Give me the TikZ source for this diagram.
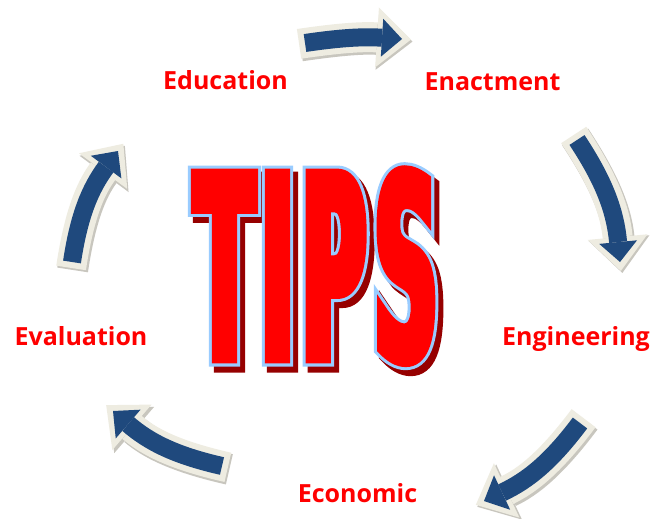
\documentclass[tikz,border=0pt]{standalone}
\usepackage{fontspec}
\usetikzlibrary{arrows.meta}
\setmainfont{Open Sans}
\newfontfamily\tipsRed{DejaVu Sans Bold}[FakeStretch=0.34,FakeBold=3.5]
\newfontfamily\tipsBlue{DejaVu Sans Bold}[FakeStretch=0.34,FakeBold=5.9]
\definecolor{tipred}{RGB}{255,0,0}
\definecolor{tipblue}{RGB}{153,204,255}
\definecolor{tipshadow}{RGB}{150,0,0}
\definecolor{arrowblue}{RGB}{31,73,125}
\definecolor{arrowcream}{RGB}{238,236,225}
\definecolor{arrowshade}{RGB}{200,198,190}
\tikzset{
  lab/.style={anchor=base, inner sep=0pt, text=tipred, font=\bfseries\fontsize{25}{25}\selectfont},
  letter/.style={anchor=base, inner sep=0pt},
  creamarrow/.style={line width=30pt, arrowcream, shorten <=-6pt, shorten >=-9pt,
    -{Triangle[width=60pt,length=34pt,line width=0pt]}},
  shadearrow/.style={line width=31pt, arrowshade, shorten <=-6pt, shorten >=-9pt,
    -{Triangle[width=61pt,length=35pt,line width=0pt]}},
  bluearrow/.style={line width=18pt, arrowblue,
    -{Triangle[width=38pt,length=20pt,line width=0pt]}}
}
% one glyph drawn as shadow, light-blue outline and red face, stacked in one box
\newcommand\tipsglyph[1]{%
  \rlap{\kern5pt\raisebox{-6pt}{\color{tipshadow}\tipsBlue\fontsize{255}{255}\selectfont #1}}%
  \rlap{\color{tipblue}\tipsBlue\fontsize{255}{255}\selectfont #1}%
  {\color{tipred}\tipsRed\fontsize{255}{255}\selectfont #1}}
\newcommand\cyclearrow[3]{% start, end, bend
  \begin{scope}[transform canvas={shift={(1.5pt,-2pt)}}]
    \draw[shadearrow] (#1) to[bend left=#3] (#2);
  \end{scope}
  \draw[creamarrow] (#1) to[bend left=#3] (#2);
  \draw[bluearrow] (#1) to[bend left=#3] (#2);
}
\begin{document}
\begin{tikzpicture}[x=1pt,y=1pt]
\useasboundingbox (0,-519) rectangle (659,0);
\fill[white] (0,-519) rectangle (659,0);
% arrow end points
\coordinate (a1s) at (305,-43);  \coordinate (a1e) at (402,-39);
\coordinate (a2s) at (577,-140); \coordinate (a2e) at (620,-262);
\coordinate (a3s) at (580,-423); \coordinate (a3e) at (484,-501);
\coordinate (a4s) at (222,-466); \coordinate (a4e) at (113,-411);
\coordinate (a5s) at (72,-262);  \coordinate (a5e) at (118,-151);
\cyclearrow{a1s}{a1e}{6}
\cyclearrow{a2s}{a2e}{14}
\cyclearrow{a3s}{a3e}{14}
\cyclearrow{a4s}{a4e}{14}
\cyclearrow{a5s}{a5e}{14}
% labels
\node[lab] (edu) at (225.5,-90) {Education};
\node[lab] (enact) at (492.5,-91) {Enactment};
\node[lab] (eng) at (576,-345) {Engineering};
\node[lab] (eval) at (81,-345) {Evaluation};
\node[lab] (econ) at (357.5,-502) {Economic};
% TIPS
\node[letter] (tT) at (224.5,-359) {\tipsglyph{T}};
\node[letter] (tI) at (277.5,-359) {\tipsglyph{I}};
\node[letter] (tP) at (334,-359) {\tipsglyph{P}};
\node[letter] (tS) at (406,-359) {\tipsglyph{S}};
\end{tikzpicture}
\end{document}
